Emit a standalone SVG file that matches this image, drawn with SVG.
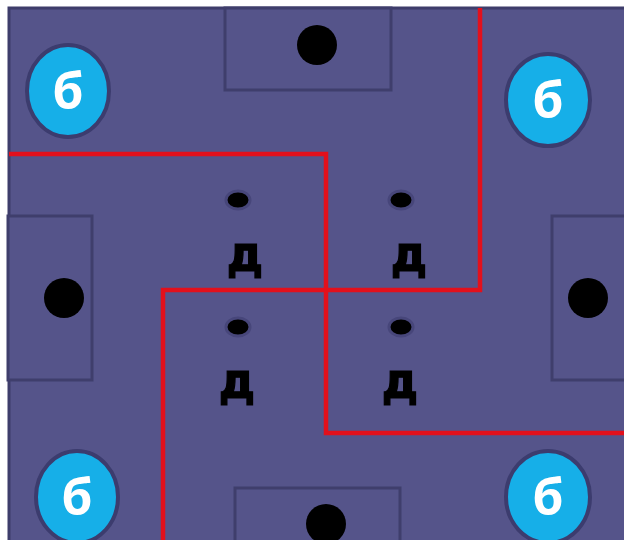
<svg xmlns="http://www.w3.org/2000/svg" width="624" height="540" viewBox="0 0 624 540">
<defs>
<style>
.field{fill:#55548a;stroke:#3e3d6b;stroke-width:3}
.goal{fill:#55548a;stroke:#3f3e6c;stroke-width:3}
.ball{fill:#000}
.red{fill:none;stroke:#e2101c;stroke-width:4.5}
.b{fill:#16afe8;stroke:#3c3c6e;stroke-width:4}
.bt{fill:#fff;font-family:"Open Sans","DejaVu Sans",sans-serif;font-weight:bold;font-size:50px;text-anchor:middle}
.spot{fill:#000;stroke:#47467a;stroke-width:3}
.dt{fill:#000;stroke:#000;stroke-width:1.2;font-family:"DejaVu Sans Condensed","DejaVu Sans",sans-serif;font-weight:bold;font-size:50px;text-anchor:middle}
</style>
</defs>
<rect width="624" height="540" fill="#fff"/>
<rect class="field" x="9" y="8" width="640" height="560"/>
<g id="goal-top"><rect class="goal" x="225" y="8" width="166" height="82"/><circle class="ball" cx="317" cy="45" r="20"/></g>
<g id="goal-left"><rect class="goal" x="8" y="216" width="84" height="164"/><circle class="ball" cx="64" cy="298" r="20"/></g>
<g id="goal-right"><rect class="goal" x="552" y="216" width="90" height="164"/><circle class="ball" cx="588" cy="298" r="20"/></g>
<g id="goal-bottom"><rect class="goal" x="235" y="488" width="165" height="70"/><circle class="ball" cx="326" cy="524" r="20"/></g>
<g id="connectors">
<polyline class="red" points="9,154 326,154 326,433 624,433"/>
<polyline class="red" points="480,8 480,290 163,290 163,540"/>
</g>
<g id="b-tl"><ellipse class="b" cx="68" cy="91" rx="41" ry="46"/><text class="bt" x="68" y="109">б</text></g>
<g id="b-tr"><ellipse class="b" cx="548" cy="100" rx="42" ry="46"/><text class="bt" x="548" y="118">б</text></g>
<g id="b-bl"><ellipse class="b" cx="77" cy="497" rx="41" ry="46"/><text class="bt" x="77" y="515">б</text></g>
<g id="b-br"><ellipse class="b" cx="548" cy="497" rx="42" ry="46"/><text class="bt" x="548" y="515">б</text></g>
<g id="d1"><ellipse class="spot" cx="238" cy="200" rx="12" ry="9"/><text class="dt" x="245" y="271">д</text></g>
<g id="d2"><ellipse class="spot" cx="401" cy="200" rx="12" ry="9"/><text class="dt" x="409" y="271">д</text></g>
<g id="d3"><ellipse class="spot" cx="238" cy="327" rx="12" ry="9"/><text class="dt" x="237" y="398">д</text></g>
<g id="d4"><ellipse class="spot" cx="401" cy="327" rx="12" ry="9"/><text class="dt" x="400" y="398">д</text></g>
</svg>
